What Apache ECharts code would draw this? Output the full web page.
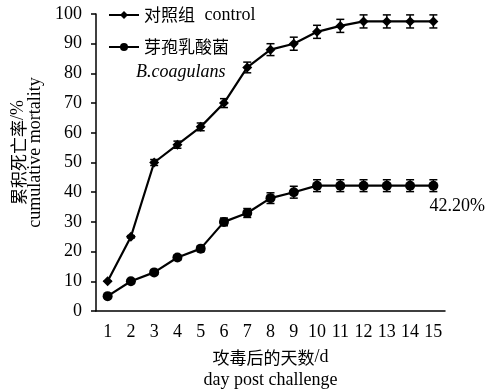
<!DOCTYPE html>
<html><head><meta charset="utf-8">
<script src="https://cdn.jsdelivr.net/npm/echarts@6/dist/echarts.min.js"></script>
<style>html,body{margin:0;padding:0;background:#fff}#c{width:489px;height:391px}</style>
</head><body><div id="c"></div>
<script>
var days = ['1','2','3','4','5','6','7','8','9','10','11','12','13','14','15'];
var controlVals = [10,25,50,56,62,70,82,88,90,94,96,97.5,97.5,97.5,97.5];
var controlErr  = [0,0.4,1,1.2,1.3,1.5,1.8,2,2.2,2.2,2.2,2.2,2.2,2.2,2.2];
var bcVals = [5,10,13,18,21,30,33,38,40,42.2,42.2,42.2,42.2,42.2,42.2];
var bcErr  = [0.4,0.4,0.7,0.8,1,1.3,1.5,1.8,2,2,2,2,2,2,2];
var yTicks = {min:0, max:100, interval:10};

var serif = '"Liberation Serif","Times New Roman",serif';
var cjk = '"Noto Sans CJK SC",sans-serif';

function errSeries(vals, errs){
  return {
    type:'custom', silent:true, z:1,
    data: vals.map(function(v,i){return [i, v-errs[i], v+errs[i]];}),
    renderItem: function(params, api){
      var x = api.value(0), lo = api.coord([x, api.value(1)]), hi = api.coord([x, api.value(2)]);
      var w = 4;
      var st = {stroke:'#000', lineWidth:1.5};
      return {type:'group', children:[
        {type:'line', shape:{x1:lo[0],y1:lo[1],x2:hi[0],y2:hi[1]}, style:st},
        {type:'line', shape:{x1:lo[0]-w,y1:lo[1],x2:lo[0]+w,y2:lo[1]}, style:st},
        {type:'line', shape:{x1:hi[0]-w,y1:hi[1],x2:hi[0]+w,y2:hi[1]}, style:st}
      ]};
    }
  };
}

var chart = echarts.init(document.getElementById('c'), null, {renderer:'canvas'});
var bcData = bcVals.map(function(v,i){
  if(i===bcVals.length-1){
    return {value:v, label:{show:true, position:'bottom', offset:[24,2], formatter:function(p){return p.value.toFixed(2)+'%';},
      fontFamily:serif, fontSize:18, color:'#000'}};
  }
  return v;
});
chart.setOption({
  animation:false,
  backgroundColor:'#fff',
  grid:{left:96, top:14, right:44, bottom:80, outerBoundsMode:'none', containLabel:false},
  legend:{
    orient:'vertical', left:103, top:-1, itemWidth:30, itemHeight:10, itemGap:10,
    textStyle:{fontSize:17, lineHeight:22, color:'#000',
      rich:{cn:{fontFamily:cjk, fontSize:17, color:'#000'}, en:{fontFamily:serif, fontSize:18, color:'#000'}}},
    formatter:function(n){
      if(n==='control') return '{cn|对照组}  {en|control}';
      return '{cn|芽孢乳酸菌}';
    },
    data:['control','bc']
  },
  graphic:[{type:'text', left:136, top:63, style:{text:'B.coagulans', font:'italic 18px "Liberation Serif", serif', fill:'#000'}}],
  xAxis:{
    type:'category', data:days, boundaryGap:true,
    axisLine:{lineStyle:{color:'#000', width:1.5}},
    axisTick:{alignWithLabel:true, interval:0, length:5, lineStyle:{color:'#000', width:1.5}},
    axisLabel:{interval:0, fontFamily:serif, fontSize:18, color:'#000', margin:12},
    name:'{cn|攻毒后的天数}{en|/d}\n{en|day post challenge}',
    nameLocation:'middle', nameGap:33,
    nameTextStyle:{lineHeight:23, color:'#000',
      rich:{cn:{fontFamily:cjk, fontSize:17, color:'#000', lineHeight:23}, en:{fontFamily:serif, fontSize:18, color:'#000', lineHeight:23}}}
  },
  yAxis:{
    type:'value', min:yTicks.min, max:yTicks.max, interval:yTicks.interval,
    splitLine:{show:false},
    axisLine:{show:true, lineStyle:{color:'#000', width:1.5}},
    axisTick:{show:true, length:5, lineStyle:{color:'#000', width:1.5}},
    axisLabel:{fontFamily:serif, fontSize:18, color:'#000', margin:14},
    name:'{cn|累积死亡率}{en|/%}\n{en|cumulative mortality}',
    nameLocation:'middle', nameRotate:90, nameGap:52,
    nameTextStyle:{lineHeight:17, color:'#000', padding:[0,0,0,20],
      rich:{cn:{fontFamily:cjk, fontSize:17, color:'#000', lineHeight:17}, en:{fontFamily:serif, fontSize:18, color:'#000', lineHeight:17}}}
  },
  series:[
    {name:'control', type:'line', data:controlVals, symbol:'diamond', symbolSize:10,
      lineStyle:{color:'#000', width:2.2}, itemStyle:{color:'#000'}, z:3},
    {name:'bc', type:'line', data:bcData, symbol:'circle', symbolSize:10,
      lineStyle:{color:'#000', width:2.2}, itemStyle:{color:'#000'}, z:3},
    errSeries(controlVals, controlErr),
    errSeries(bcVals, bcErr)
  ]
});
</script></body></html>
